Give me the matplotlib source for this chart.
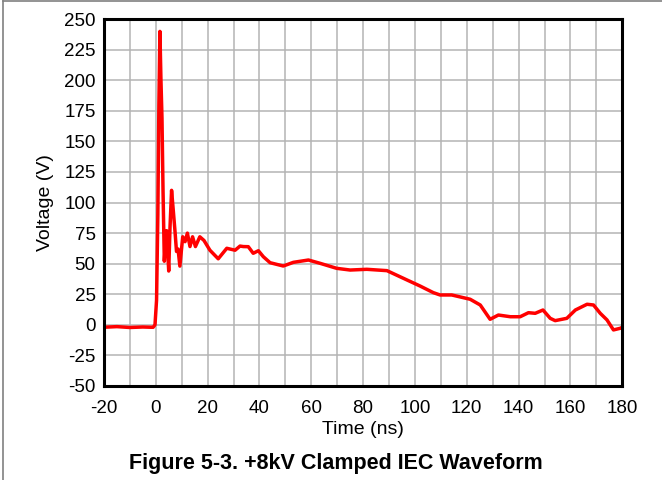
import matplotlib.pyplot as plt
from matplotlib.lines import Line2D
from matplotlib.ticker import MultipleLocator

plt.rcParams['font.family'] = ['Liberation Sans', 'DejaVu Sans']
plt.rcParams['axes.unicode_minus'] = False

# waveform points (time in ns, voltage in V)
time_ns = [-20, -15, -10, -5, -2, -1, -0.3, 0.3, 0.8, 1.2, 1.6, 2.0, 2.4, 2.8, 3.3,
           3.8, 4.2, 4.6, 5.0, 5.5, 6.1, 6.7, 7.4, 8.0, 8.6, 9.3, 10.4, 11.3, 12.2,
           13.2, 14.2, 15.3, 17.0, 18.6, 20.9, 24.1, 27.4, 30.6, 32.5, 33.8, 35.7,
           37.6, 39.6, 41.5, 44.1, 49.2, 53.1, 58.9, 63.4, 69.8, 75.0, 81.4, 89.2,
           96.9, 102.0, 107.1, 109.7, 114.2, 121.3, 125.2, 129.0, 132.2, 136.8,
           140.6, 143.8, 146.4, 149.4, 152.2, 154.1, 158.6, 161.9, 166.4, 168.9,
           171.5, 174.1, 176.6, 179.3, 180]
voltage = [-2, -1.5, -2.2, -1.8, -2, -2, 0, 20, 90, 180, 240, 200, 169, 110, 52,
           70, 77, 60, 44, 80, 110, 95, 77, 60, 62, 48, 72, 68, 75,
           64, 72, 64, 72, 69, 61, 54, 62.6, 61, 64.4, 64, 63.9,
           58.5, 60.6, 55.7, 50.8, 48.1, 51.1, 53, 50.3, 46.2, 44.8, 45.4, 44.3,
           36.7, 31.7, 26.3, 24.4, 24.4, 20.9, 16.2, 4.5, 8, 6.6,
           6.6, 9.9, 9.4, 12.1, 5.3, 3.4, 5.3, 12.1, 16.8, 16.2,
           9.4, 4, -4.2, -2.8, -2]

fig = plt.figure(figsize=(6.62, 4.8), dpi=100)
ax = fig.add_axes([0.157, 0.196, 0.783, 0.764])

ax.plot(time_ns, voltage, color='#ff0000', lw=2.5, solid_joinstyle='round')

ax.set_xlim(-20, 180)
ax.set_ylim(-50, 250)
ax.xaxis.set_major_locator(MultipleLocator(20))
ax.xaxis.set_minor_locator(MultipleLocator(10))
ax.yaxis.set_major_locator(MultipleLocator(25))
ax.grid(True, which='both', color='#b4b4b4', lw=1.1)
ax.set_axisbelow(True)
ax.tick_params(which='both', length=0, labelsize=13.5)
ax.tick_params(axis='x', pad=10)
ax.tick_params(axis='y', pad=6)

for s in ax.spines.values():
    s.set_linewidth(2.2)
    s.set_color('black')

ax.set_xlabel('Time (ns)', fontsize=14, labelpad=3)
ax.set_ylabel('Voltage (V)', fontsize=14, labelpad=7)

fig.text(0.508, 0.022, 'Figure 5-3. +8kV Clamped IEC Waveform', ha='center',
         fontsize=15.5, fontweight='bold')

# thin grey page border (top and left)
fig.add_artist(Line2D([0.004, 1], [0.997, 0.997], color='#808080', lw=1.2,
                      transform=fig.transFigure))
fig.add_artist(Line2D([0.004, 0.004], [0, 0.997], color='#808080', lw=1.2,
                      transform=fig.transFigure))

fig.savefig('out.png', dpi=100)
